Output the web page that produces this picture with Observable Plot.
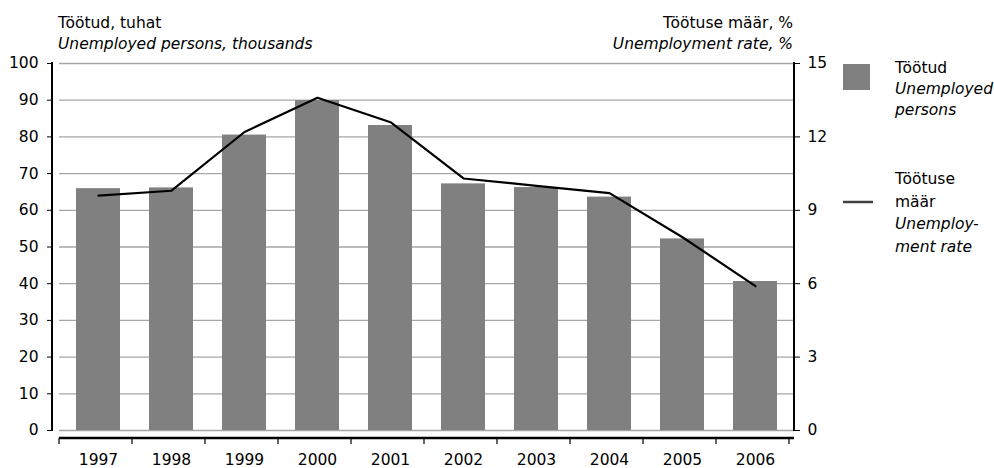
<!DOCTYPE html>
<html><head><meta charset="utf-8">
<script src="https://cdn.jsdelivr.net/npm/d3@7"></script>
<script src="https://cdn.jsdelivr.net/npm/@observablehq/plot@0.6"></script>
<style>body{margin:0;background:#fff}#chart svg{display:block}</style>
</head><body><div id="chart"></div>
<script>
const years = ["1997","1998","1999","2000","2001","2002","2003","2004","2005","2006"];
const unemployed = [65.9, 66.1, 80.5, 89.9, 83.1, 67.2, 66.2, 63.6, 52.2, 40.6];
const rate = [9.6, 9.8, 12.2, 13.6, 12.6, 10.3, 10.0, 9.7, 7.9, 5.9];
const leftTicks = [0,10,20,30,40,50,60,70,80,90,100];
const rightTicks = [0,3,6,9,12,15];
const leftTitle = ["Töötud, tuhat", "Unemployed persons, thousands"];
const rightTitle = ["Töötuse määr, %", "Unemployment rate, %"];
const legendBar = ["Töötud", "Unemployed", "persons"];
const legendLine = ["Töötuse", "määr", "Unemploy-", "ment rate"];

const leftMax = leftTicks[leftTicks.length-1];
const rightMax = rightTicks[rightTicks.length-1];
const k = leftMax / rightMax;
const data = years.map((y,i) => ({year: y, persons: unemployed[i], rate: rate[i]}));

const FONT = "DejaVu Sans";
const FS = 15.5;
const chart = Plot.plot({
  width: 994, height: 468,
  marginLeft: 59, marginRight: 200, marginTop: 63, marginBottom: 38,
  style: {fontFamily: FONT, fontSize: FS + "px", color: "#000", background: "#fff"},
  x: {type: "band", domain: years, paddingInner: 0.4, paddingOuter: 0.2, axis: null, label: null},
  y: {domain: [0, leftMax], axis: null, label: null},
  marks: [
    Plot.gridY(leftTicks, {stroke: "#a6a6a6", strokeOpacity: 1, strokeWidth: 1.3}),
    Plot.barY(data, {x: "year", y: "persons", fill: "#808080"}),
    Plot.lineY(data, {x: "year", y: d => d.rate * k, stroke: "#000", strokeWidth: 2.2}),
    Plot.axisY({anchor: "left", label: null, ticks: leftTicks, tickSize: 5, tickPadding: 9, dx: -7, fontSize: FS, tickFormat: d => d}),
    Plot.axisY({anchor: "right", label: null, ticks: rightTicks.map(t => t * k), tickSize: 5, tickPadding: 8, fontSize: FS, tickFormat: d => Math.round(d / k)}),
    Plot.axisX({anchor: "bottom", label: null, tickSize: 0, tickPadding: 23, fontSize: FS})
  ]
});
document.getElementById("chart").appendChild(chart);

const svg = d3.select(chart);
const xs = chart.scale("x"), ys = chart.scale("y");
const [x0, x1] = xs.range;
const yTop = ys.apply(leftMax), yBot = ys.apply(0);
const g = svg.append("g").attr("stroke", "#000").attr("fill", "none");
g.append("line").attr("x1", x0-7).attr("x2", x0-7).attr("y1", yTop-1).attr("y2", yBot+1).attr("stroke-width", 2);
g.append("line").attr("x1", x1).attr("x2", x1).attr("y1", yTop-1).attr("y2", yBot+1).attr("stroke-width", 2);
const axY = yBot + 8;
g.append("line").attr("x1", x0).attr("x2", x1).attr("y1", axY).attr("y2", axY).attr("stroke-width", 2.5);
for (let i = 0; i <= years.length; i++) {
  const bx = x0 + i * xs.step;
  g.append("line").attr("x1", bx).attr("x2", bx).attr("y1", axY).attr("y2", axY + 6).attr("stroke-width", 1.2);
}

const t = svg.append("g").attr("font-family", FONT).attr("font-size", FS).attr("fill", "#000").attr("text-anchor", "start");
t.append("text").attr("x", 58).attr("y", 28).text(leftTitle[0]);
t.append("text").attr("x", 58).attr("y", 49).attr("font-style", "italic").text(leftTitle[1]);
t.append("text").attr("x", 793).attr("y", 28).attr("text-anchor", "end").text(rightTitle[0]);
t.append("text").attr("x", 793).attr("y", 49).attr("text-anchor", "end").attr("font-style", "italic").text(rightTitle[1]);

svg.append("rect").attr("x", 843).attr("y", 64).attr("width", 27).attr("height", 26).attr("fill", "#808080");
svg.append("line").attr("x1", 843).attr("x2", 873).attr("y1", 202).attr("y2", 202).attr("stroke", "#404040").attr("stroke-width", 2.5);
legendBar.forEach((s, i) => t.append("text").attr("x", 895).attr("y", 73 + i*21).attr("font-style", i ? "italic" : "normal").text(s));
legendLine.forEach((s, i) => t.append("text").attr("x", 895).attr("y", 184 + i*22.5).attr("font-style", i > 1 ? "italic" : "normal").text(s));
</script></body></html>
